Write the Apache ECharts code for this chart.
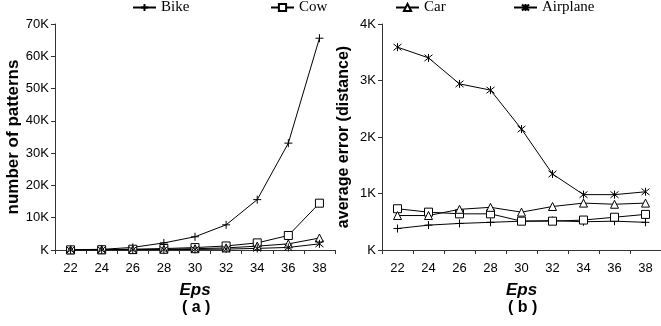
<!DOCTYPE html>
<html><head><meta charset="utf-8">
<script src="https://cdn.jsdelivr.net/npm/echarts@6/dist/echarts.min.js"></script>
<style>html,body{margin:0;padding:0;background:#fff}#c{width:661px;height:326px}</style>
</head><body><div id="c"></div>
<script>
const categories = ['22','24','26','28','30','32','34','36','38'];
// (a) number of patterns
const patBike = [100, 200, 800, 2200, 4100, 7800, 15600, 33100, 65600];
const patCow = [50, 100, 250, 450, 750, 1250, 2200, 4500, 14500];
const patCar = [30, 60, 120, 220, 400, 650, 1200, 1900, 3700];
const patAirplane = [10, 30, 60, 100, 170, 280, 500, 800, 1900];
// (b) average error (distance)
const errBike = [380, 440, 470, 490, 510, 520, 500, 510, 490];
const errCow = [730, 670, 640, 640, 510, 510, 530, 580, 630];
const errCar = [610, 610, 720, 755, 670, 770, 830, 810, 830];
const errAirplane = [3590, 3400, 2940, 2830, 2140, 1345, 980, 980, 1030];
const yTicksA = [0, 10000, 20000, 30000, 40000, 50000, 60000, 70000];
const yTicksB = [0, 1000, 2000, 3000, 4000];

const sym = {
  Bike: 'path://M0,5L10,5M5,0L5,10',
  Cow: 'rect',
  Car: 'triangle',
  Airplane: 'path://M1,1L9,9M9,1L1,9M5,0L5,10'
};
const symSize = {Bike: 8, Cow: 8, Car: 8, Airplane: 8};
function fmtK(v){ return v === 0 ? 'K' : (v/1000) + 'K'; }

function mkSeries(name, data, idx){
  return {
    name, type: 'line', data, xAxisIndex: idx, yAxisIndex: idx,
    symbol: sym[name], symbolSize: symSize[name], showAllSymbols: true,
    lineStyle: {color: '#000', width: 1},
    itemStyle: {color: '#fff', borderColor: '#000', borderWidth: 1},
    emphasis: {disabled: true}, animation: false
  };
}
const tickFont = {fontFamily: 'Liberation Sans, Arial', fontSize: 13, color: '#000'};
function xAxis(gi){
  return {
    type: 'category', gridIndex: gi, data: categories, boundaryGap: true,
    axisLine: {lineStyle: {color: '#333', width: 1}},
    axisTick: {show: true, alignWithLabel: false, length: 4, lineStyle: {color: '#333'}},
    axisLabel: Object.assign({margin: 12}, tickFont),
    name: 'Eps', nameLocation: 'middle', nameGap: 32,
    nameTextStyle: {fontFamily: 'Liberation Sans, Arial', fontSize: 17, fontWeight: 'bold', fontStyle: 'italic', color: '#000'}
  };
}
function yAxis(gi, ticks, name, fs, gap){
  return {
    type: 'value', gridIndex: gi, min: ticks[0], max: ticks[ticks.length-1], interval: ticks[1]-ticks[0],
    splitLine: {show: false},
    axisLine: {show: true, lineStyle: {color: '#333', width: 1}},
    axisTick: {show: true, length: 4, lineStyle: {color: '#333'}},
    axisLabel: Object.assign({margin: 6, formatter: fmtK}, tickFont),
    name, nameLocation: 'middle', nameGap: gap,
    nameTextStyle: {fontFamily: 'Liberation Sans, Arial', fontSize: fs, fontWeight: 'bold', color: '#000'}
  };
}
const legendText = {fontFamily: 'Liberation Serif, Times New Roman', fontSize: 15, color: '#000'};
function leg(name, left){
  return {data: [name], left, top: 0, itemWidth: 23, itemHeight: 9, itemGap: 0, padding: 0,
    textStyle: legendText, selectedMode: false};
}
const chart = echarts.init(document.getElementById('c'), null, {renderer: 'canvas'});
chart.setOption({
  animation: false,
  backgroundColor: '#fff',
  legend: [leg('Bike', 132), leg('Cow', 270), leg('Car', 395), leg('Airplane', 513)],
  grid: [
    {left: 55, top: 24, width: 280, height: 226},
    {left: 382, top: 24, width: 283, height: 226}
  ],
  xAxis: [xAxis(0), xAxis(1)],
  yAxis: [yAxis(0, yTicksA, 'number of patterns', 17, 30), yAxis(1, yTicksB, 'average error (distance)', 16, 30)],
  series: [
    mkSeries('Bike', patBike, 0), mkSeries('Cow', patCow, 0), mkSeries('Car', patCar, 0), mkSeries('Airplane', patAirplane, 0),
    mkSeries('Bike', errBike, 1), mkSeries('Cow', errCow, 1), mkSeries('Car', errCar, 1), mkSeries('Airplane', errAirplane, 1)
  ],
  graphic: [
    {type: 'text', left: 182, top: 300, style: {text: '( a )', font: 'bold 16px Liberation Sans', fill: '#000'}},
    {type: 'text', left: 508, top: 300, style: {text: '( b )', font: 'bold 16px Liberation Sans', fill: '#000'}}
  ]
});
</script></body></html>
